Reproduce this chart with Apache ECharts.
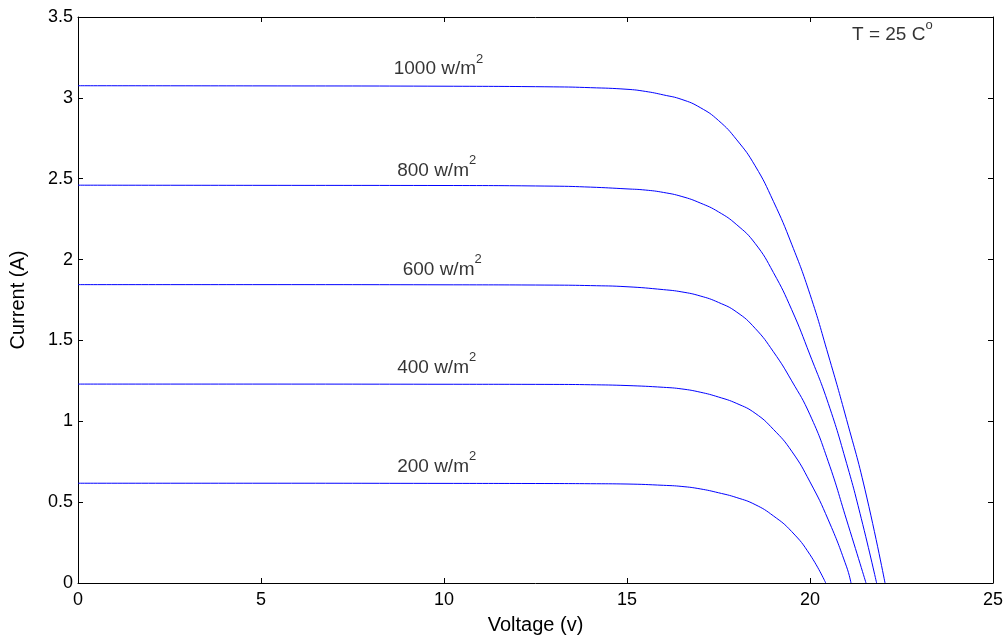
<!DOCTYPE html>
<html>
<head>
<meta charset="utf-8">
<script src="https://cdn.jsdelivr.net/npm/echarts@6/dist/echarts.min.js"></script>
<style>
    html, body { margin: 0; padding: 0; background: #fff; }
    #chart { width: 1004px; height: 640px; }
</style>
</head>
<body>
<div id="chart"></div>
<script>
// I-V curves: [voltage, current]
var g1000 = [[0, 3.075], [5, 3.074], [10, 3.072], [13, 3.068], [14, 3.063], [15, 3.053], [15.5, 3.04], [16, 3.018],
    [16.5, 2.99], [17, 2.94], [17.5, 2.86], [18, 2.74], [18.5, 2.58], [19, 2.36], [19.5, 2.095], [20, 1.785],
    [20.5, 1.41], [21, 1.01], [21.5, 0.58], [22.05, 0]];
var g800 = [[0, 2.46], [5, 2.459], [10, 2.458], [13, 2.454], [14, 2.448], [15, 2.437], [15.5, 2.43], [16, 2.415],
    [16.5, 2.39], [17, 2.35], [17.5, 2.295], [18, 2.215], [18.5, 2.1], [19, 1.92], [19.5, 1.69], [20, 1.41],
    [20.5, 1.11], [21, 0.74], [21.4, 0.4], [21.82, 0]];
var g600 = [[0, 1.845], [5, 1.845], [10, 1.844], [13, 1.842], [14, 1.839], [15, 1.832], [16, 1.814], [16.5, 1.8],
    [17, 1.775], [17.5, 1.735], [18, 1.675], [18.5, 1.575], [19, 1.43], [19.5, 1.25], [20, 1.04], [20.5, 0.75],
    [21, 0.39], [21.53, 0]];
var g400 = [[0, 1.23], [5, 1.23], [10, 1.229], [13, 1.228], [14, 1.226], [15, 1.221], [16, 1.21], [16.5, 1.2],
    [17, 1.18], [17.5, 1.15], [18, 1.11], [18.5, 1.05], [19, 0.95], [19.5, 0.815], [20, 0.625], [20.5, 0.39],
    [21, 0.1], [21.12, 0]];
var g200 = [[0, 0.617], [5, 0.617], [10, 0.616], [13, 0.615], [14, 0.614], [15, 0.612], [16, 0.604], [16.5, 0.597],
    [17, 0.582], [17.5, 0.558], [18, 0.528], [18.5, 0.485], [19, 0.415], [19.5, 0.318], [20, 0.175], [20.43, 0]];

// curve labels (text, anchor in data units)
var curveLabels = ['1000 w/m', '800 w/m', '600 w/m', '400 w/m', '200 w/m'];
var labelPos = [[9.85, 3.2], [9.8, 2.57], [9.95, 1.96], [9.8, 1.352], [9.8, 0.74]];
var tempText = 'T = 25 C';
var tempPos = [22.25, 3.41];

var font = 'Liberation Sans, Arial, sans-serif';
var blue = '#0000ff';

var myChart = echarts.init(document.getElementById('chart'));

var curveSeries = [g1000, g800, g600, g400, g200].map(function (d) {
    return {
        type: 'line',
        data: d,
        showSymbol: false,
        smooth: 0.5,
        silent: true,
        animation: false,
        lineStyle: { color: blue, width: 1 }
    };
});

var labelData = labelPos.map(function (p, i) {
    return { value: p, name: curveLabels[i], sup: '2' };
});
labelData.push({ value: tempPos, name: tempText, sup: 'o' });

var richText = {
    a: { fontSize: 19, fontFamily: font, color: '#000', verticalAlign: 'bottom', lineHeight: 26 },
    s: { fontSize: 13, fontFamily: font, color: '#000', verticalAlign: 'top', lineHeight: 26 }
};

var axisBase = {
    type: 'value',
    axisLine: { show: true, onZero: false, lineStyle: { color: '#000', width: 1 } },
    axisTick: { show: true, inside: true, length: 5, lineStyle: { color: '#000' } },
    splitLine: { show: false }
};

function axis(extra) {
    return Object.assign({}, axisBase, extra);
}

var option = {
    backgroundColor: '#fff',
    animation: false,
    grid: {
        left: 78,
        top: 17,
        right: 11,
        bottom: 57,
        outerBoundsMode: 'none'
    },
    xAxis: [
        axis({
            min: 0, max: 25, interval: 5, position: 'bottom',
            name: 'Voltage (v)', nameLocation: 'middle', nameGap: 32,
            nameTextStyle: { fontSize: 20, fontFamily: font, color: '#000' },
            axisLabel: { fontSize: 18, fontFamily: font, color: '#000', margin: 8 }
        }),
        axis({
            min: 0, max: 25, interval: 5, position: 'top',
            axisLabel: { show: false }
        })
    ],
    yAxis: [
        axis({
            min: 0, max: 3.5, interval: 0.5, position: 'left',
            name: 'Current (A)', nameLocation: 'middle', nameGap: 50,
            nameTextStyle: { fontSize: 20, fontFamily: font, color: '#000' },
            axisLabel: { fontSize: 18, fontFamily: font, color: '#000', margin: 5 }
        }),
        axis({
            min: 0, max: 3.5, interval: 0.5, position: 'right',
            axisLabel: { show: false }
        })
    ],
    series: curveSeries.concat([{
        type: 'scatter',
        data: labelData,
        symbolSize: 1,
        silent: true,
        itemStyle: { color: 'rgba(0,0,0,0)' },
        label: {
            show: true,
            position: 'inside',
            color: '#000',
            formatter: function (p) {
                return '{a|' + p.data.name + '}{s|' + p.data.sup + '}';
            },
            rich: richText
        }
    }])
};
myChart.setOption(option);
</script>
</body>
</html>
